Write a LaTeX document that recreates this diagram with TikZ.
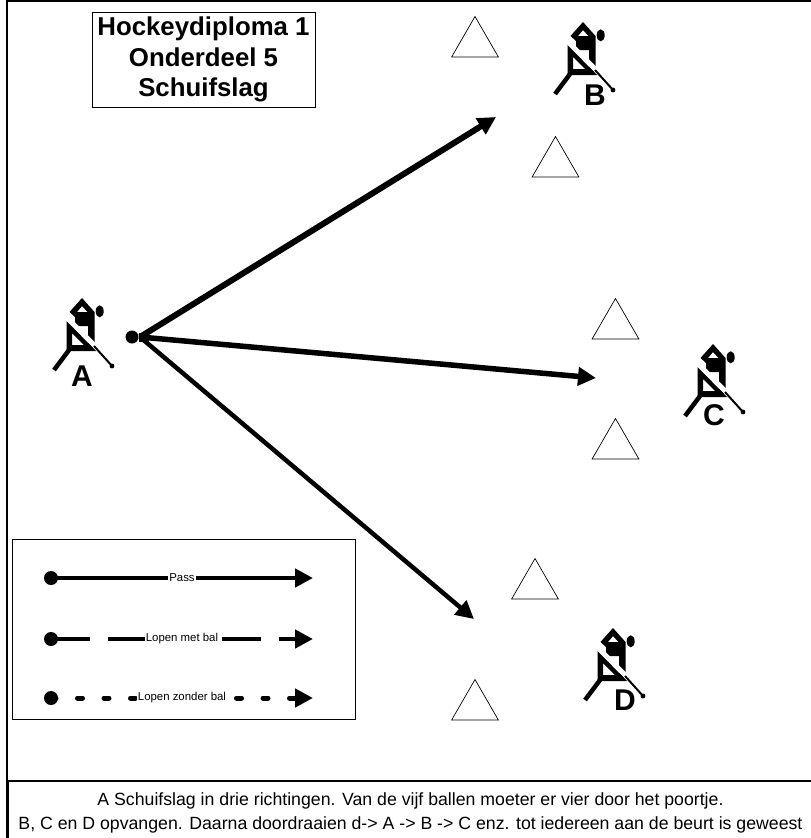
\documentclass[tikz,border=0pt]{standalone}
\usepackage{fontspec}
\setmainfont{Liberation Sans}
\usetikzlibrary{positioning,shapes.geometric,arrows.meta}

\tikzset{
    cone/.style={draw, regular polygon, regular polygon sides=3, minimum size=54pt, inner sep=0pt, line width=0.7pt},
    textbox/.style={draw, align=center, inner sep=0pt, line width=1pt},
    legendtext/.style={fill=white, inner sep=1pt, font=\fontsize{11.4}{12}\selectfont},
    ballmark/.style={fill, circle, inner sep=0pt, minimum size=14pt},
    passline/.style={line width=#1, -{Triangle[length=18pt,width=18pt]}},
    pics/player/.style={code={
        \fill[even odd rule] (0,0) -- (-12.5,14) -- (-7,19) -- (-7,28) -- (6,28) -- (6,50) -- (12.5,50) -- (12.5,14) -- cycle
            (0,8) -- (-5,14) -- (5.5,14) -- cycle;
        \draw[white, line width=5pt] (-17,18) -- (14,49);
        \fill[even odd rule] (-15.5,23) -- (-15.5,53) -- (14,53) -- cycle (-10,35) -- (-10,47) -- (2,47) -- cycle;
        \draw[line width=2pt] (12,48) -- (30,68);
        \fill (30,68) circle (2.4);
        \draw[line width=4.5pt] (-13,52) -- (-28,72);
        \fill (17.7,13.3) ellipse (4 and 6);
        \node[font=\bfseries\fontsize{30}{30}\selectfont] (-name) at #1 ;
    }},
}

\begin{document}
\begin{tikzpicture}[x=1pt,y=-1pt]
    \useasboundingbox (0,0) rectangle (811,838);
    \draw[line width=2pt] (6.5,838) -- (6.5,1) -- (811,1);

    % Boxes
    \node[textbox, minimum width=223pt, minimum height=95pt, font=\bfseries\fontsize{25.8}{30.5}\selectfont] (title) at (203.5,59.5) {Hockeydiploma 1\\Onderdeel 5\\Schuifslag};
    \node[textbox, minimum width=343pt, minimum height=180pt] (legend) at (183.5,629) {};
    \node[textbox, minimum width=805pt, minimum height=64pt, line width=1.5pt, font=\fontsize{17.7}{24}\selectfont] (info) at (410.5,813) {A Schuifslag in drie richtingen. Van de vijf ballen moeter er vier door het poortje.\\B, C en D opvangen. Daarna doordraaien d-> A -> B -> C enz. tot iedereen aan de beurt is geweest};

    % Cones
    \node[cone] (coneB1) at (475,43.5) {};
    \node[cone] (coneB2) at (555.5,163.5) {};
    \node[cone] (coneC1) at (615.5,325.5) {};
    \node[cone] (coneC2) at (615.5,445.5) {};
    \node[cone] (coneD1) at (535,585.5) {};
    \node[cone] (coneD2) at (475,706.5) {};

    % Players
    \pic (playerA) at (82,298) {player={(0,78) {A}}};
    \pic (playerB) at (583,22) {player={(12,73) {B}}};
    \pic (playerC) at (713,344) {player={(1,71) {C}}};
    \pic (playerD) at (613,628) {player={(12,72) {D}}};

    % Arrows
    \node[ballmark, minimum size=13pt] (ball) at (132,337) {};
    \coordinate (start) at (140,337);
    \coordinate (blob) at (149,337);
    \coordinate (targetB) at (496,117);
    \coordinate (targetC) at (596,378);
    \coordinate (targetD) at (474,619);
    \draw[line width=9pt] (ball) -- (blob);
    \draw[passline=6pt] (start) -- (targetB);
    \draw[passline=5.5pt] (start) -- (targetC);
    \draw[passline=4.5pt] (start) -- (targetD);

    % Legend
    \node[ballmark] (passdot) at (51,578) {};
    \node[ballmark] (rundot) at (51,639) {};
    \node[ballmark] (walkdot) at (51,698) {};
    \coordinate (passend) at (313,578);
    \coordinate (runend) at (313,639);
    \coordinate (walkend) at (313,698);
    \draw[passline=4.5pt] (passdot.center) -- node[legendtext] {Pass} (passend);
    \draw[passline=4.5pt, dash pattern=on 39pt off 18pt] (rundot.center) -- node[legendtext] {Lopen met bal} (runend);
    \draw[passline=5pt, line cap=round, dash pattern=on 5pt off 21.5pt] (walkdot.center) -- node[legendtext] {Lopen zonder bal} (walkend);
\end{tikzpicture}
\end{document}
